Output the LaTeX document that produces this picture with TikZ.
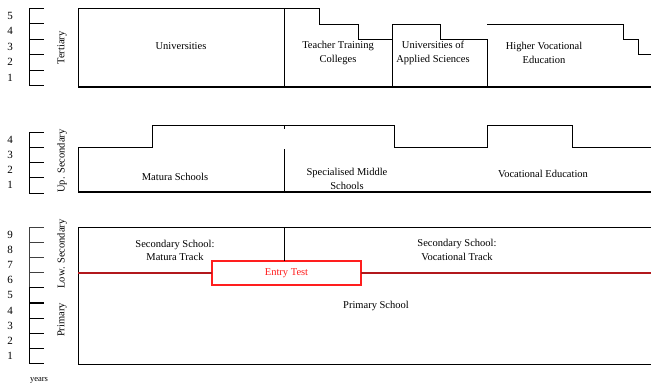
\documentclass[tikz,border=0pt]{standalone}
\usepackage{fontspec}
\setmainfont{Liberation Serif}
\definecolor{entryred}{RGB}{255,30,30}
\definecolor{linered}{RGB}{178,24,28}
\begin{document}
\begin{tikzpicture}[x=1pt,y=-1pt,
  box/.style={line width=0.9pt,draw=black},
  lbl/.style={font=\fontsize{10.5}{13.8}\selectfont,align=center,inner sep=0pt},
  num/.style={font=\fontsize{11}{12}\selectfont,inner sep=0pt},
  side/.style={font=\fontsize{10.5}{12}\selectfont,rotate=90,inner sep=0pt},
  tick/.style={line width=0.9pt},
  entry/.style={fill=white,text=entryred,
    font=\fontsize{10.5}{12}\selectfont,minimum width=149pt,minimum height=24pt,inner sep=0pt}]
\useasboundingbox (0,0) rectangle (651,384);
% ---------- scales ----------
% tertiary
\draw[tick] (29,8) -- (29,85.5);
\foreach \k in {0,...,5} {\draw[tick] (29,8+15.5*\k) -- (44,8+15.5*\k);}
\foreach \k/\n in {0/5,1/4,2/3,3/2,4/1} {\node[num] (t\n) at (10,15.75+15.5*\k) {\n};}
\node[side] (tert) at (62,48) {Tertiary};
% upper secondary
\draw[tick] (29,132) -- (29,193);
\foreach \k in {0,...,4} {\draw[tick] (29,132+15.25*\k) -- (44,132+15.25*\k);}
\foreach \k/\n in {0/4,1/3,2/2,3/1} {\node[num] (u\n) at (10,139.6+15.25*\k) {\n};}
\node[side] (upsec) at (62,161) {Up. Secondary};
% lower secondary / primary
\draw[tick,black!75] (29,227) -- (29,288);
\draw[tick] (29,288) -- (29,364);
\foreach \k in {0,...,3} {\draw[tick,black!75] (29,227+15.2*\k) -- (44,227+15.2*\k);}
\foreach \k in {4,...,9} {\draw[line width=1.2pt] (29,227+15.2*\k) -- (44,227+15.2*\k);}
\foreach \k/\n in {0/9,1/8,2/7,3/6,4/5,5/4,6/3,7/2,8/1} {\node[num] (l\n) at (10,234.6+15.2*\k) {\n};}
\node[side] (lowsec) at (62,254) {Low. Secondary};
\node[side] (prim) at (62,320) {Primary};
\node[lbl,font=\fontsize{8.5}{9}\selectfont] (years) at (39,380) {years};
% ---------- tertiary block ----------
\draw[box] (78,87) -- (78,8) -- (284,8) -- (284,87);
\draw[box] (284,8) -- (319,8) -- (319,24) -- (358,24) -- (358,39) -- (392,39) -- (392,87);
\draw[box] (392,39) -- (392,24) -- (440,24) -- (440,39) -- (487,39) -- (487,87);
\draw[box] (487,24) -- (623,24) -- (623,39) -- (638,39) -- (638,54) -- (651,54);
\draw[box,line width=1.1pt] (78,87) -- (651,87);
\node[lbl] (uni) at (181,46) {Universities};
\node[lbl] (ttc) at (338,53) {Teacher Training\\Colleges};
\node[lbl] (uas) at (433,53) {Universities of\\Applied Sciences};
\node[lbl] (hve) at (544,53) {Higher Vocational\\Education};
% ---------- upper secondary block ----------
\draw[box] (78,192) -- (78,147) -- (152,147) -- (152,125) -- (394,125) -- (394,147) -- (487,147) -- (487,125) -- (572,125) -- (572,147) -- (651,147);
\draw[box,line width=1.1pt] (78,192) -- (651,192);
\draw[box] (284,125) -- (284,129);
\draw[box] (284,149) -- (284,192);
\node[lbl] (mat) at (175,177) {Matura Schools};
\node[lbl] (sms) at (347,179) {Specialised Middle\\Schools};
\node[lbl] (voc) at (543,174) {Vocational Education};
% ---------- lower block ----------
\draw[box] (651,227) -- (78,227) -- (78,364) -- (651,364);
\node[entry] (et) at (286.5,273) {Entry Test};
\draw[entryred,line width=1.5pt] (et.south west) rectangle (et.north east);
\draw[box] (284,227) -- (et.north -| 284,0);
\draw[line width=1.3pt,linered] (78,273) -- (et.west);
\draw[line width=1.3pt,linered] (et.east) -- (651,273);
\node[lbl] (sma) at (175,250.5) {Secondary School:\\Matura Track};
\node[lbl] (svo) at (457,250) {Secondary School:\\Vocational Track};
\node[lbl] (ps) at (376,306) {Primary School};
\end{tikzpicture}
\end{document}
